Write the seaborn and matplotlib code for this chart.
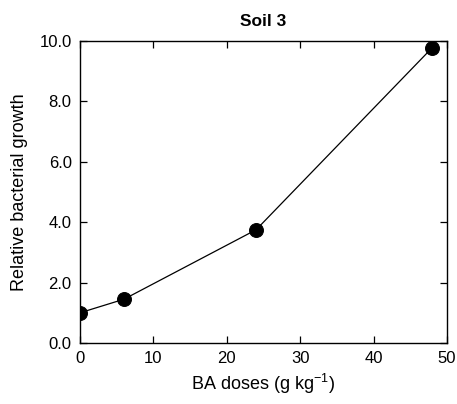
import matplotlib
matplotlib.use("Agg")
import matplotlib.pyplot as plt
import seaborn as sns
import pandas as pd
from matplotlib.ticker import FormatStrFormatter

doses = [0, 6, 24, 48]
growth = [1.0, 1.45, 3.75, 9.78]
xticks = [0, 10, 20, 30, 40, 50]
yticks = [0, 2, 4, 6, 8, 10]

sns.set_style("ticks")
plt.rcParams['font.family'] = ['Liberation Sans', 'DejaVu Sans']
plt.rcParams['mathtext.fontset'] = 'custom'
plt.rcParams['mathtext.rm'] = 'Liberation Sans'
plt.rcParams['mathtext.it'] = 'Liberation Sans'
plt.rcParams['text.color'] = 'black'
plt.rcParams['axes.labelcolor'] = 'black'

df = pd.DataFrame({"dose": doses, "growth": growth})
fig = plt.figure(figsize=(4.57, 4.04), dpi=100)
ax = fig.add_axes([0.175, 0.151, 0.803, 0.7475])
sns.lineplot(data=df, x="dose", y="growth", ax=ax, color="black", linewidth=0.9,
             marker="o", markersize=10, markeredgecolor="black", markerfacecolor="black")
ax.set_xlim(0, 50)
ax.set_ylim(0, 10)
ax.set_xticks(xticks)
ax.set_yticks(yticks)
ax.yaxis.set_major_formatter(FormatStrFormatter('%.1f'))
ax.tick_params(direction="in", top=True, right=True, labeltop=False, labelright=False,
               length=5, width=0.9, labelsize=12, pad=6, colors="black")
for s in ax.spines.values():
    s.set_visible(True)
    s.set_linewidth(1.0)
    s.set_color("black")
ax.set_xlabel(r"BA doses (g kg$\mathregular{^{-1}}$)", fontsize=13, labelpad=4)
ax.set_ylabel("Relative bacterial growth", fontsize=13, labelpad=8)
ax.set_title("Soil 3", fontsize=12.5, fontweight="bold", pad=11)
fig.savefig("out.png", dpi=100)
